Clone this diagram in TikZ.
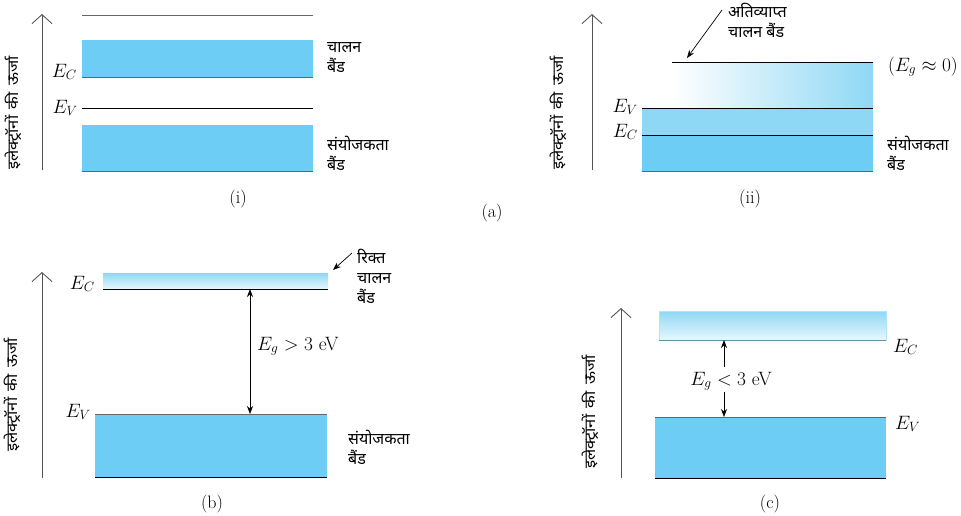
\documentclass[tikz,border=0pt]{standalone}
\usepackage{fontspec}
\usepackage{graphicx}
\newfontfamily\dev[Script=Devanagari]{Noto Sans}
\usetikzlibrary{arrows.meta}
\definecolor{bandblue}{HTML}{6DCDF5}
\definecolor{midblue}{HTML}{8FD8F5}
\definecolor{paleblue}{HTML}{E8F7FD}
\definecolor{axisgrey}{HTML}{555555}
\definecolor{edgegrey}{HTML}{666666}
\definecolor{edgeblue}{HTML}{5E8FA6}
\newcommand{\energylabel}{\scalebox{1.1}[1]{इलेक्ट्रॉनों\hspace{0.4em}की\hspace{0.4em}ऊर्जा}}
\newcommand{\mlab}[1]{\scalebox{1.12}{#1}}
\begin{document}
\begin{tikzpicture}[x=1pt,y=-1pt,
  axis/.style={draw=axisgrey, line width=0.9pt, -{Straight Barb[length=9pt,width=20pt,line width=0.9pt]}},
  vlabel/.style={rotate=90, font=\dev\fontsize{15}{17}\selectfont, inner sep=0pt},
  hindi/.style={font=\dev\fontsize{16}{20}\selectfont, align=left, anchor=west, inner sep=0pt},
  mathlbl/.style={font=\fontsize{17.28}{20}\selectfont, inner sep=0pt},
  caption/.style={font=\fontsize{18}{20}\selectfont, inner sep=0pt},
  edge/.style={draw=edgegrey, line width=0.9pt},
  level/.style={draw=black, line width=0.8pt},
  pointer/.style={draw=black, line width=0.7pt, -{Stealth[length=8pt,width=6pt]}},
  gaparrow/.style={draw=black, line width=0.7pt, {Stealth[length=8pt,width=6pt]}-{Stealth[length=8pt,width=6pt]}}
]
\useasboundingbox (0,0) rectangle (961,515);

%================ (i) =================
\coordinate (ia0) at (42,170);
\coordinate (ia1) at (42,14);
\draw[axis] (ia0) -- (ia1);
\node[vlabel] (iy) at (13,113) {\energylabel};
\coordinate (itl) at (82,15); \coordinate (itr) at (313,15);
\draw[edge] (itl) -- (itr);
\fill[bandblue] (82,40) rectangle (313,77);
\coordinate (icl) at (82,77); \coordinate (icr) at (313,77);
\draw[edge] (icl) -- (icr);
\coordinate (ivl) at (82,108); \coordinate (ivr) at (313,108);
\draw[level] (ivl) -- (ivr);
\fill[bandblue] (82,125) rectangle (313,171);
\coordinate (ibl) at (82,171); \coordinate (ibr) at (313,171);
\draw[edge] (ibl) -- (ibr);
\node[mathlbl, anchor=base east] (iec) at (77,77) {\mlab{$E_C$}};
\node[mathlbl, anchor=base east] (iev) at (78,113) {\mlab{$E_V$}};
\node[hindi] (icb) at (327,58) {चालन\\बैंड};
\node[hindi] (ivb) at (327,153) {संयोजकता\\बैंड};
\node[caption] (icap) at (238,199) {(i)};

\node[caption] (acap) at (492,213) {(a)};

%================ (ii) =================
\coordinate (iia0) at (592,170);
\coordinate (iia1) at (592,14);
\draw[axis] (iia0) -- (iia1);
\node[vlabel] (iiy) at (558,113) {\energylabel};
\shade[left color=white, right color=midblue] (672,62) rectangle (873,108);
\fill[midblue] (642,108) rectangle (873,135);
\fill[bandblue] (642,135) rectangle (873,171);
\coordinate (iitl) at (672,62); \coordinate (iitr) at (873,62);
\draw[level] (iitl) -- (iitr);
\coordinate (iivl) at (642,108); \coordinate (iivr) at (873,108);
\draw[level] (iivl) -- (iivr);
\coordinate (iicl) at (642,135); \coordinate (iicr) at (873,135);
\draw[level] (iicl) -- (iicr);
\coordinate (iibl) at (642,171); \coordinate (iibr) at (873,171);
\draw[edge] (iibl) -- (iibr);
\node[mathlbl, anchor=base east] (iiev) at (638,112) {\mlab{$E_V$}};
\node[mathlbl, anchor=base east] (iiec) at (638,137) {\mlab{$E_C$}};
\node[mathlbl, anchor=base east] (iieg) at (958,71) {\mlab{$(E_g\approx 0)$}};
\node[hindi] (iiov) at (728,20) {अतिव्याप्त\\चालन बैंड};
\coordinate (iip0) at (722,10);
\coordinate (iip1) at (687,58);
\draw[pointer] (iip0) -- (iip1);
\node[hindi] (iivb) at (887,153) {संयोजकता\\बैंड};
\node[caption] (iicap) at (750,199) {(ii)};

%================ (b) =================
\coordinate (ba0) at (42,478);
\coordinate (ba1) at (42,272);
\draw[axis] (ba0) -- (ba1);
\node[vlabel] (by) at (12,395) {\energylabel};
\shade[top color=midblue, bottom color=paleblue] (103,273) rectangle (328,289);
\coordinate (bcl) at (103,289); \coordinate (bcr) at (328,289);
\draw[level] (bcl) -- (bcr);
\fill[bandblue] (95,414) rectangle (327,477);
\coordinate (bvl) at (95,414); \coordinate (bvr) at (327,414);
\draw[edge] (bvl) -- (bvr);
\coordinate (bbl) at (95,477); \coordinate (bbr) at (327,477);
\draw[level] (bbl) -- (bbr);
\node[mathlbl, anchor=base east] (bec) at (95,289) {\mlab{$E_C$}};
\node[mathlbl, anchor=base east] (bev) at (91,417) {\mlab{$E_V$}};
\coordinate (bg0) at (250,289);
\coordinate (bg1) at (250,414);
\draw[gaparrow] (bg0) -- (bg1);
\node[mathlbl, anchor=base west] (beg) at (257,350) {\mlab{$E_g > 3$ eV}};
\node[hindi] (bcb) at (357,276) {रिक्त\\चालन\\बैंड};
\coordinate (bp0) at (352,253);
\coordinate (bp1) at (333,270);
\draw[pointer] (bp0) -- (bp1);
\node[hindi] (bvb) at (348,447) {संयोजकता\\बैंड};
\node[caption] (bcap) at (212,504) {(b)};

%================ (c) =================
\coordinate (ca0) at (621,478);
\coordinate (ca1) at (621,308);
\draw[axis] (ca0) -- (ca1);
\node[vlabel] (cy) at (590,412) {\energylabel};
\shade[top color=midblue, bottom color=paleblue] (659,311) rectangle (886,340);
\draw[draw=midblue!70, line width=0.5pt] (659,311) rectangle (886,340);
\coordinate (ccl) at (659,340); \coordinate (ccr) at (886,340);
\draw[draw=edgeblue, line width=0.9pt] (ccl) -- (ccr);
\fill[bandblue] (655,417) rectangle (886,478);
\coordinate (cvl) at (655,417); \coordinate (cvr) at (886,417);
\draw[edge] (cvl) -- (cvr);
\coordinate (cbl) at (655,478); \coordinate (cbr) at (886,478);
\draw[level] (cbl) -- (cbr);
\node[mathlbl, anchor=base west] (cec) at (893,352) {\mlab{$E_C$}};
\node[mathlbl, anchor=base west] (cev) at (895,429) {\mlab{$E_V$}};
\node[mathlbl, anchor=base] (ceg) at (731,385) {\mlab{$E_g < 3$ eV}};
\coordinate (cu0) at (724,367);
\coordinate (cu1) at (724,340);
\draw[pointer] (cu0) -- (cu1);
\coordinate (cd0) at (724,392);
\coordinate (cd1) at (724,417);
\draw[pointer] (cd0) -- (cd1);
\node[caption] (ccap) at (770,504) {(c)};
\end{tikzpicture}
\end{document}
